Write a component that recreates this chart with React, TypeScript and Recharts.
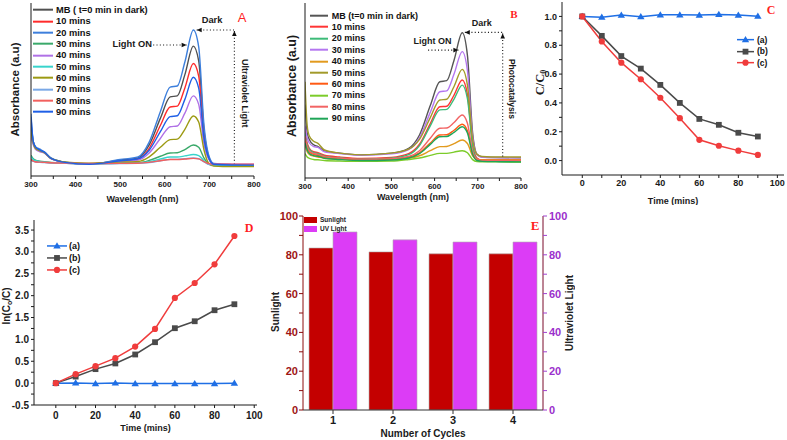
import React from 'react';
import {
  LineChart,
  Line,
  XAxis,
  YAxis,
  Legend,
  ReferenceLine,
  ReferenceDot,
  BarChart,
  Bar,
} from 'recharts';

const SANS = '"Liberation Sans", Arial, sans-serif';
const SERIF = '"Liberation Serif", "Times New Roman", serif';
const INK = '#1a1a1a';

// ---------- spectra (A: UV light, B: photocatalysis) ----------
const wavelengths = [300, 305, 310, 320, 330, 345, 380, 430, 500, 540, 565, 590, 612, 628, 645, 664, 676, 688, 698, 710, 750, 800];
const wlTicks = [300, 350, 400, 450, 500, 550, 600, 650, 700, 750, 800];

// panel A – absorbance (a.u.)
const uvMB = [0.3, 0.2, 0.165, 0.148, 0.135, 0.1, 0.078, 0.07, 0.092, 0.105, 0.18, 0.333, 0.457, 0.463, 0.586, 0.751, 0.665, 0.263, 0.115, 0.07, 0.065, 0.064];
const uv10 = [0.1, 0.088, 0.082, 0.08, 0.079, 0.077, 0.074, 0.07, 0.085, 0.098, 0.16, 0.292, 0.399, 0.404, 0.509, 0.65, 0.577, 0.232, 0.105, 0.068, 0.064, 0.064];
const uv20 = [0.36, 0.2, 0.17, 0.155, 0.14, 0.105, 0.078, 0.068, 0.095, 0.11, 0.196, 0.372, 0.514, 0.52, 0.659, 0.844, 0.747, 0.29, 0.125, 0.072, 0.066, 0.064];
const uv30 = [0.12, 0.1, 0.092, 0.086, 0.082, 0.078, 0.075, 0.071, 0.076, 0.077, 0.09, 0.114, 0.133, 0.134, 0.153, 0.179, 0.166, 0.103, 0.07, 0.06, 0.058, 0.058];
const uv40 = [0.227, 0.18, 0.155, 0.14, 0.132, 0.1, 0.076, 0.068, 0.085, 0.092, 0.133, 0.217, 0.285, 0.289, 0.363, 0.463, 0.414, 0.183, 0.1, 0.07, 0.068, 0.068];
const uv50 = [0.112, 0.095, 0.088, 0.083, 0.08, 0.077, 0.074, 0.07, 0.074, 0.075, 0.083, 0.098, 0.11, 0.11, 0.116, 0.124, 0.118, 0.088, 0.068, 0.062, 0.06, 0.06];
const uv60 = [0.256, 0.19, 0.16, 0.145, 0.135, 0.102, 0.08, 0.074, 0.08, 0.084, 0.111, 0.166, 0.21, 0.213, 0.27, 0.347, 0.312, 0.149, 0.075, 0.058, 0.055, 0.055];
const uv70 = [0.09, 0.085, 0.082, 0.079, 0.078, 0.076, 0.073, 0.07, 0.072, 0.073, 0.078, 0.088, 0.096, 0.096, 0.1, 0.104, 0.1, 0.082, 0.068, 0.066, 0.066, 0.066];
const uv80 = [0.092, 0.086, 0.082, 0.08, 0.079, 0.077, 0.075, 0.072, 0.073, 0.074, 0.079, 0.088, 0.095, 0.095, 0.098, 0.102, 0.099, 0.083, 0.072, 0.068, 0.068, 0.068];
const uv90 = [0.34, 0.2, 0.168, 0.15, 0.138, 0.102, 0.077, 0.068, 0.088, 0.1, 0.149, 0.256, 0.343, 0.348, 0.443, 0.571, 0.508, 0.214, 0.107, 0.068, 0.064, 0.063];

// panel B – absorbance (a.u.)
const pcMB = [0.42, 0.26, 0.22, 0.19, 0.18, 0.155, 0.142, 0.132, 0.142, 0.17, 0.246, 0.414, 0.55, 0.556, 0.673, 0.83, 0.701, 0.258, 0.136, 0.12, 0.117, 0.115];
const pc10 = [0.27, 0.2, 0.17, 0.15, 0.145, 0.13, 0.12, 0.112, 0.118, 0.139, 0.193, 0.311, 0.407, 0.41, 0.474, 0.56, 0.477, 0.192, 0.114, 0.102, 0.1, 0.1];
const pc20 = [0.26, 0.19, 0.165, 0.145, 0.14, 0.125, 0.115, 0.108, 0.113, 0.133, 0.185, 0.298, 0.389, 0.392, 0.451, 0.531, 0.453, 0.182, 0.108, 0.097, 0.095, 0.093];
const pc30 = [0.3, 0.23, 0.2, 0.18, 0.175, 0.15, 0.14, 0.13, 0.138, 0.162, 0.229, 0.375, 0.493, 0.498, 0.594, 0.722, 0.613, 0.236, 0.133, 0.118, 0.116, 0.115];
const pc40 = [0.19, 0.15, 0.135, 0.125, 0.12, 0.113, 0.108, 0.104, 0.106, 0.113, 0.127, 0.156, 0.179, 0.18, 0.196, 0.217, 0.197, 0.127, 0.108, 0.105, 0.105, 0.104];
const pc50 = [0.55, 0.3, 0.24, 0.21, 0.198, 0.16, 0.142, 0.132, 0.142, 0.165, 0.221, 0.345, 0.446, 0.45, 0.523, 0.621, 0.531, 0.22, 0.135, 0.123, 0.12, 0.12];
const pc60 = [0.22, 0.17, 0.15, 0.135, 0.13, 0.118, 0.11, 0.105, 0.108, 0.119, 0.144, 0.2, 0.246, 0.247, 0.273, 0.307, 0.27, 0.141, 0.106, 0.1, 0.1, 0.1];
const pc70 = [0.14, 0.12, 0.112, 0.106, 0.104, 0.1, 0.097, 0.095, 0.097, 0.106, 0.114, 0.129, 0.141, 0.141, 0.148, 0.156, 0.144, 0.105, 0.094, 0.092, 0.092, 0.091];
const pc80 = [0.24, 0.18, 0.155, 0.14, 0.135, 0.122, 0.113, 0.107, 0.11, 0.123, 0.156, 0.227, 0.284, 0.286, 0.317, 0.36, 0.313, 0.152, 0.108, 0.1, 0.1, 0.1];
const pc90 = [0.2, 0.16, 0.14, 0.128, 0.124, 0.113, 0.106, 0.1, 0.103, 0.114, 0.139, 0.192, 0.236, 0.237, 0.261, 0.293, 0.257, 0.135, 0.1, 0.095, 0.093, 0.092];

// ---------- kinetics (C, D) ----------
const times = [0, 10, 20, 30, 40, 50, 60, 70, 80, 90];
const timeTicks = [0, 10, 20, 30, 40, 50, 60, 70, 80, 90, 100];
const ratioA = [1.0, 0.995, 1.009, 0.998, 1.011, 1.011, 1.009, 1.014, 1.009, 1.002];
const ratioB = [1.0, 0.865, 0.725, 0.638, 0.525, 0.4, 0.289, 0.248, 0.193, 0.167];
const ratioC = [1.0, 0.826, 0.679, 0.564, 0.436, 0.294, 0.144, 0.103, 0.069, 0.039];
const ratioTicks = [0, 0.1, 0.2, 0.3, 0.4, 0.5, 0.6, 0.7, 0.8, 0.9, 1.0];

const lnA = [0, 0.005, -0.01, 0.003, -0.01, -0.01, -0.01, -0.01, -0.01, 0.0];
const lnB = [0, 0.15, 0.32, 0.45, 0.655, 0.936, 1.256, 1.415, 1.667, 1.804];
const lnC = [0, 0.205, 0.388, 0.571, 0.837, 1.24, 1.948, 2.29, 2.717, 3.364];
const lnTicks = [-0.5, -0.25, 0, 0.25, 0.5, 0.75, 1, 1.25, 1.5, 1.75, 2, 2.25, 2.5, 2.75, 3, 3.25, 3.5];

// ---------- recycling (E) ----------
const cycles = ['1', '2', '3', '4'];
const sunlight = [83.5, 81.5, 80.5, 80.5];
const uvLight = [91.8, 87.7, 86.6, 86.6];
const pctTicks = [0, 10, 20, 30, 40, 50, 60, 70, 80, 90, 100];

const uvSeries = [
  { key: 'mb', name: 'MB ( t=0 min in dark)', color: '#505050', values: uvMB },
  { key: 'm10', name: '10 mins', color: '#ff2b2b', values: uv10 },
  { key: 'm20', name: '20 mins', color: '#3d7fdc', values: uv20 },
  { key: 'm30', name: '30 mins', color: '#3aa96a', values: uv30 },
  { key: 'm40', name: '40 mins', color: '#b071e6', values: uv40 },
  { key: 'm50', name: '50 mins', color: '#38d4cc', values: uv50 },
  { key: 'm60', name: '60 mins', color: '#9c9a12', values: uv60 },
  { key: 'm70', name: '70 mins', color: '#7aa8e6', values: uv70 },
  { key: 'm80', name: '80 mins', color: '#f2605e', values: uv80 },
  { key: 'm90', name: '90 mins', color: '#1f5fe6', values: uv90 },
];

const pcSeries = [
  { key: 'mb', name: 'MB (t=0 min in dark)', color: '#555555', values: pcMB },
  { key: 'm10', name: '10 mins', color: '#ff3535', values: pc10 },
  { key: 'm20', name: '20 mins', color: '#3dbb78', values: pc20 },
  { key: 'm30', name: '30 mins', color: '#b476f0', values: pc30 },
  { key: 'm40', name: '40 mins', color: '#e29a1e', values: pc40 },
  { key: 'm50', name: '50 mins', color: '#a29a2a', values: pc50 },
  { key: 'm60', name: '60 mins', color: '#ff5a14', values: pc60 },
  { key: 'm70', name: '70 mins', color: '#7ccc2a', values: pc70 },
  { key: 'm80', name: '80 mins', color: '#f26464', values: pc80 },
  { key: 'm90', name: '90 mins', color: '#1fa557', values: pc90 },
];
const spectraOrder = uvSeries.map((s) => s.key);

const toRows = (series: { key: string; values: number[] }[]) =>
  wavelengths.map((w, i) => {
    const row: Record<string, number> = { w };
    series.forEach((s) => (row[s.key] = s.values[i]));
    return row;
  });

const uvRows = toRows(uvSeries);
const pcRows = toRows(pcSeries);
const ratioRows = times.map((t, i) => ({ t, a: ratioA[i], b: ratioB[i], c: ratioC[i] }));
const lnRows = times.map((t, i) => ({ t, a: lnA[i], b: lnB[i], c: lnC[i] }));
const cycleRows = cycles.map((c, i) => ({ cycle: c, sun: sunlight[i], uv: uvLight[i] }));

const kinSeries = [
  { key: 'a', name: '(a)', color: '#1f6fe5', marker: 'tri' },
  { key: 'b', name: '(b)', color: '#4a4a4a', marker: 'sq' },
  { key: 'c', name: '(c)', color: '#f03c3c', marker: 'circ' },
];
const kinOrder = kinSeries.map((s) => s.key);
const markerOf: Record<string, string> = { a: 'tri', b: 'sq', c: 'circ' };

// ---------- helpers ----------
const markerEl = (shape: string, cx: number, cy: number, color: string, key?: string) => {
  if (shape === 'tri')
    return <path key={key} d={`M${cx},${cy - 3.6}L${cx + 3.7},${cy + 2.6}L${cx - 3.7},${cy + 2.6}Z`} fill={color} />;
  if (shape === 'sq') return <rect key={key} x={cx - 2.9} y={cy - 2.9} width={5.8} height={5.8} fill={color} />;
  return <circle key={key} cx={cx} cy={cy} r={3.1} fill={color} />;
};

const dotFor = (shape: string, color: string) => (p: any) =>
  markerEl(shape, p.cx, p.cy, color, `${p.dataKey}-${p.index}`);

const yTitle = (node: React.ReactNode, dx: number, dyc: number, style: React.CSSProperties, angle = -90) => (props: any) => {
  const vb = props.viewBox;
  const x = vb.x + dx;
  const y = vb.y + vb.height / 2 + dyc;
  return (
    <text x={x} y={y} transform={`rotate(${angle} ${x} ${y})`} textAnchor="middle" dominantBaseline="central" style={style}>
      {node}
    </text>
  );
};

const xTitle = (node: React.ReactNode, dy: number, style: React.CSSProperties) => (props: any) => {
  const vb = props.viewBox;
  return (
    <text x={vb.x + vb.width / 2} y={vb.y + dy} textAnchor="middle" dominantBaseline="central" style={style}>
      {node}
    </text>
  );
};

const dottedArrow = (head: 'start' | 'end') => (p: any) => {
  const { x1, y1, x2, y2 } = p;
  const hx = head === 'end' ? x2 : x1;
  const hy = head === 'end' ? y2 : y1;
  const tx = head === 'end' ? x1 : x2;
  const ty = head === 'end' ? y1 : y2;
  const ang = Math.atan2(hy - ty, hx - tx);
  const bx = hx - 5 * Math.cos(ang);
  const by = hy - 5 * Math.sin(ang);
  const px = -Math.sin(ang) * 2.3;
  const py = Math.cos(ang) * 2.3;
  return (
    <g>
      <line x1={x1} y1={y1} x2={x2} y2={y2} stroke="#111" strokeWidth={1.1} strokeDasharray="1 2.3" />
      <polygon points={`${hx},${hy} ${bx + px},${by + py} ${bx - px},${by - py}`} fill="#111" />
    </g>
  );
};

const note = (txt: string, size: number, rotate = 0) => (p: any) => (
  <text
    x={p.cx}
    y={p.cy}
    transform={rotate ? `rotate(${rotate} ${p.cx} ${p.cy})` : undefined}
    textAnchor="middle"
    dominantBaseline="central"
    fontFamily={SANS}
    fontWeight={700}
    fontSize={size}
    fill={INK}
  >
    {txt}
  </text>
);

const lineLegend = (o: { rowH: number; lineW: number; font: number; gap: number; lw: number; order: string[]; markers?: boolean }) => (props: any) => {
  const items = [...(props.payload || [])].sort(
    (a: any, b: any) => o.order.indexOf(String(a.dataKey)) - o.order.indexOf(String(b.dataKey))
  );
  return (
    <div style={{ fontFamily: SANS, fontWeight: 700, fontSize: o.font, color: '#111' }}>
      {items.map((p: any) => (
        <div key={String(p.dataKey)} style={{ height: o.rowH, display: 'flex', alignItems: 'center', whiteSpace: 'nowrap' }}>
          <svg width={o.lineW} height={o.rowH} style={{ marginRight: o.gap, flex: 'none' }}>
            <line x1={0} x2={o.lineW} y1={o.rowH / 2} y2={o.rowH / 2} stroke={p.color} strokeWidth={o.lw} />
            {o.markers ? markerEl(markerOf[String(p.dataKey)], o.lineW / 2, o.rowH / 2, p.color) : null}
          </svg>
          <span>{p.value}</span>
        </div>
      ))}
    </div>
  );
};

const barOrder = ['sun', 'uv'];
const boxLegend = (props: any) => {
  const items = [...(props.payload || [])].sort(
    (a: any, b: any) => barOrder.indexOf(String(a.dataKey)) - barOrder.indexOf(String(b.dataKey))
  );
  return (
    <div style={{ fontFamily: SANS, fontWeight: 700, fontSize: 6.5, color: '#222' }}>
      {items.map((p: any) => (
        <div key={String(p.dataKey)} style={{ height: 9, display: 'flex', alignItems: 'center', whiteSpace: 'nowrap' }}>
          <span style={{ display: 'inline-block', width: 13, height: 6, background: p.color, marginRight: 3 }} />
          {p.value}
        </div>
      ))}
    </div>
  );
};

const tickStyle = (size: number, fill = INK) => ({ fontSize: size, fontWeight: 700, fill, fontFamily: SANS });
const titleStyle = (size: number, fill = INK): React.CSSProperties => ({ fontSize: size, fontWeight: 700, fill, fontFamily: SANS });
const letter = (ch: string, x: number, y: number, size: number, family: string, weight: number) => (
  <span
    style={{
      position: 'absolute',
      left: x,
      top: y,
      transform: 'translate(-50%, -50%)',
      fontFamily: family,
      fontWeight: weight,
      fontSize: size,
      lineHeight: 1,
      color: '#ff1f1f',
    }}
  >
    {ch}
  </span>
);

const wlFmt = (v: number) => (v % 100 === 0 ? String(v) : '');

function SpectraPanel(props: {
  rows: Record<string, number>[];
  series: { key: string; name: string; color: string }[];
  left: number;
  yWidth: number;
  right: number;
  bottomH: number;
  yLabel: React.ReactNode;
  xDy: number;
  legend: { left: number; top: number; rowH: number; lineW: number; gap: number; font: number };
  notes: React.ReactNode[];
}) {
  const { rows, series, yWidth, right, bottomH, legend } = props;
  return (
    <div style={{ position: 'absolute', left: props.left, top: 0 }}>
      <LineChart width={265} height={205} data={rows} margin={{ top: 3, right, bottom: 0, left: 0 }}>
        <XAxis
          dataKey="w"
          type="number"
          domain={[300, 800]}
          allowDataOverflow
          ticks={wlTicks}
          interval={0}
          tickFormatter={wlFmt}
          height={bottomH}
          tickSize={3}
          tickMargin={2}
          tick={tickStyle(8)}
          stroke={INK}
          label={xTitle('Wavelength (nm)', props.xDy, titleStyle(9))}
        />
        <XAxis xAxisId="top" orientation="top" dataKey="w" type="number" domain={[300, 800]} allowDataOverflow height={0} tick={false} tickLine={false} stroke={INK} />
        <YAxis type="number" domain={[0, 1]} allowDataOverflow width={yWidth} tick={false} tickLine={false} stroke={INK} label={props.yLabel} />
        <YAxis yAxisId="r" orientation="right" type="number" domain={[0, 1]} allowDataOverflow width={0} tick={false} tickLine={false} stroke={INK} />
        <Legend
          layout="vertical"
          align="center"
          verticalAlign="middle"
          wrapperStyle={{ left: legend.left, top: legend.top, width: 'auto' }}
          content={lineLegend({ rowH: legend.rowH, lineW: legend.lineW, gap: legend.gap, font: legend.font, lw: 2, order: spectraOrder })}
        />
        {series.map((s) => (
          <Line
            key={s.key}
            dataKey={s.key}
            name={s.name}
            stroke={s.color}
            strokeWidth={1.4}
            type="monotone"
            dot={false}
            activeDot={false}
            isAnimationActive={false}
          />
        ))}
        {props.notes}
      </LineChart>
    </div>
  );
}

const uvNotes = [
  <ReferenceLine key="on" segment={[{ x: 574, y: 0.757 }, { x: 649, y: 0.757 }]} ifOverflow="visible" shape={dottedArrow('end')} />,
  <ReferenceLine key="dk" segment={[{ x: 671.5, y: 0.844 }, { x: 756, y: 0.844 }]} ifOverflow="visible" shape={dottedArrow('start')} />,
  <ReferenceLine key="vt" segment={[{ x: 756, y: 0.838 }, { x: 756, y: 0.073 }]} ifOverflow="visible" shape={dottedArrow('start')} />,
  <ReferenceDot key="t1" x={527} y={0.761} ifOverflow="visible" shape={note('Light ON', 9.3)} />,
  <ReferenceDot key="t2" x={706} y={0.902} ifOverflow="visible" shape={note('Dark', 9.3)} />,
  <ReferenceDot key="t3" x={780} y={0.478} ifOverflow="visible" shape={note('Ultraviolet Light', 9, 90)} />,
];

const pcNotes = [
  <ReferenceLine key="on" segment={[{ x: 585, y: 0.731 }, { x: 655, y: 0.731 }]} ifOverflow="visible" shape={dottedArrow('end')} />,
  <ReferenceLine key="dk" segment={[{ x: 670, y: 0.832 }, { x: 757.6, y: 0.832 }]} ifOverflow="visible" shape={dottedArrow('start')} />,
  <ReferenceLine key="vt" segment={[{ x: 757.6, y: 0.826 }, { x: 757.6, y: 0.122 }]} ifOverflow="visible" shape={dottedArrow('start')} />,
  <ReferenceDot key="t1" x={595} y={0.785} ifOverflow="visible" shape={note('Light ON', 9)} />,
  <ReferenceDot key="t2" x={709} y={0.884} ifOverflow="visible" shape={note('Dark', 9)} />,
  <ReferenceDot key="t3" x={778.5} y={0.509} ifOverflow="visible" shape={note('Photocatalysis', 8.5, 90)} />,
];

export default function App() {
  const ratioFmt = (v: number) => (Math.round(v * 10) % 2 === 0 ? v.toFixed(1) : '');
  const timeFmt = (v: number) => (v % 20 === 0 ? String(v) : '');
  const lnFmt = (v: number) => (Math.round(v * 4) % 2 === 0 ? v.toFixed(1) : '');
  const pctFmt = (v: number) => (v % 20 === 0 ? String(v) : '');

  return (
    <div style={{ position: 'absolute', left: 0, top: 0, width: 787, height: 440, background: '#fff', overflow: 'hidden' }}>
      {/* A */}
      <SpectraPanel
        rows={uvRows}
        series={uvSeries}
        left={0}
        yWidth={31}
        right={11}
        bottomH={29}
        xDy={23}
        yLabel={yTitle('Absorbance (a.u)', 15, 0, titleStyle(11.5))}
        legend={{ left: 33, top: 4.3, rowH: 11.35, lineW: 20, gap: 3, font: 9.3 }}
        notes={uvNotes}
      />
      {/* B */}
      <SpectraPanel
        rows={pcRows}
        series={pcSeries}
        left={265}
        yWidth={40}
        right={9}
        bottomH={27}
        xDy={19}
        yLabel={yTitle('Absorbance (a.u)', 26.7, -4.5, titleStyle(12.5))}
        legend={{ left: 45, top: 10, rowH: 11.4, lineW: 18, gap: 3.7, font: 9 }}
        notes={pcNotes}
      />

      {/* C */}
      <div style={{ position: 'absolute', left: 530, top: 0 }}>
        <LineChart width={257} height={205} data={ratioRows} margin={{ top: 2, right: 3, bottom: 0, left: 0 }}>
          <XAxis
            dataKey="t"
            type="number"
            domain={[-10.4, 103.4]}
            allowDataOverflow
            ticks={timeTicks}
            interval={0}
            tickFormatter={timeFmt}
            height={30}
            tickSize={3}
            tickMargin={2}
            tick={tickStyle(9)}
            stroke={INK}
            label={xTitle('Time (mins)', 26, titleStyle(9))}
          />
          <XAxis xAxisId="top" orientation="top" dataKey="t" type="number" domain={[-10.4, 103.4]} allowDataOverflow height={0} tick={false} tickLine={false} stroke={INK} />
          <YAxis
            type="number"
            domain={[-0.1, 1.1]}
            allowDataOverflow
            ticks={ratioTicks}
            interval={0}
            tickFormatter={ratioFmt}
            width={32}
            tickSize={3}
            tickMargin={2}
            tick={tickStyle(9)}
            stroke={INK}
            label={yTitle(
              <>
                C/C<tspan fontSize={8} dy={3}>0</tspan>
              </>,
              9.5,
              -6,
              { fontSize: 12.5, fontWeight: 700, fill: INK, fontFamily: SERIF }
            )}
          />
          <YAxis yAxisId="r" orientation="right" type="number" domain={[0, 1]} allowDataOverflow width={0} tick={false} tickLine={false} stroke={INK} />
          <Legend
            layout="vertical"
            align="center"
            verticalAlign="middle"
            wrapperStyle={{ left: 207, top: 34.3, width: 'auto' }}
            content={lineLegend({ rowH: 11.3, lineW: 17, gap: 3, font: 8.5, lw: 1.5, order: kinOrder, markers: true })}
          />
          {kinSeries.map((s) => (
            <Line
              key={s.key}
              dataKey={s.key}
              name={s.name}
              stroke={s.color}
              strokeWidth={1.5}
              type="linear"
              dot={dotFor(s.marker, s.color)}
              activeDot={false}
              isAnimationActive={false}
            />
          ))}
        </LineChart>
      </div>

      {/* D */}
      <div style={{ position: 'absolute', left: 0, top: 205 }}>
        <LineChart width={265} height={235} data={lnRows} margin={{ top: 15, right: 8, bottom: 0, left: 0 }}>
          <XAxis
            dataKey="t"
            type="number"
            domain={[-11, 101.4]}
            allowDataOverflow
            ticks={timeTicks}
            interval={0}
            tickFormatter={timeFmt}
            height={35}
            tickSize={3}
            tickMargin={4}
            tick={tickStyle(10)}
            stroke={INK}
            label={xTitle('Time (mins)', 23, titleStyle(9))}
          />
          <XAxis xAxisId="top" orientation="top" dataKey="t" type="number" domain={[-11, 101.4]} allowDataOverflow height={0} tick={false} tickLine={false} stroke={INK} />
          <YAxis
            type="number"
            domain={[-0.5, 3.73]}
            allowDataOverflow
            ticks={lnTicks}
            interval={0}
            tickFormatter={lnFmt}
            width={34}
            tickSize={3}
            tickMargin={2}
            tick={tickStyle(10)}
            stroke={INK}
            label={yTitle(
              <>
                ln(C<tspan fontSize={7} dy={2.5}>o</tspan>
                <tspan dy={-2.5}>/C)</tspan>
              </>,
              6,
              -6.5,
              titleStyle(10)
            )}
          />
          <YAxis yAxisId="r" orientation="right" type="number" domain={[0, 1]} allowDataOverflow width={0} tick={false} tickLine={false} stroke={INK} />
          <Legend
            layout="vertical"
            align="center"
            verticalAlign="middle"
            wrapperStyle={{ left: 47, top: 35.1, width: 'auto' }}
            content={lineLegend({ rowH: 11.9, lineW: 20, gap: 2, font: 9, lw: 1.5, order: kinOrder, markers: true })}
          />
          {kinSeries.map((s) => (
            <Line
              key={s.key}
              dataKey={s.key}
              name={s.name}
              stroke={s.color}
              strokeWidth={1.5}
              type="linear"
              dot={dotFor(s.marker, s.color)}
              activeDot={false}
              isAnimationActive={false}
            />
          ))}
        </LineChart>
      </div>

      {/* E */}
      <div style={{ position: 'absolute', left: 265, top: 205 }}>
        <BarChart width={310} height={235} data={cycleRows} margin={{ top: 11, right: 0, bottom: 0, left: 0 }} barCategoryGap="10%" barGap={0}>
          <XAxis
            dataKey="cycle"
            height={30}
            tickSize={4}
            tickMargin={2}
            tick={tickStyle(11)}
            stroke="#333"
            label={xTitle('Number of Cycles', 23, titleStyle(10))}
          />
          <XAxis xAxisId="top" orientation="top" type="number" domain={[0, 1]} allowDataOverflow height={0} tick={false} tickLine={false} stroke="#7a0a0a" />
          <YAxis
            type="number"
            domain={[0, 100]}
            allowDataOverflow
            ticks={pctTicks}
            interval={0}
            tickFormatter={pctFmt}
            width={38}
            tickSize={4}
            tickMargin={1}
            tick={tickStyle(11, '#9e1414')}
            axisLine={{ stroke: '#8a0c0c' }}
            tickLine={{ stroke: '#8a0c0c' }}
            label={yTitle('Sunlight', 10, -1, titleStyle(10, '#222'))}
          />
          <YAxis
            yAxisId="r"
            orientation="right"
            type="number"
            domain={[0, 100]}
            allowDataOverflow
            ticks={pctTicks}
            interval={0}
            tickFormatter={pctFmt}
            width={32}
            tickSize={4}
            tickMargin={2}
            tick={tickStyle(11, '#9b30cc')}
            axisLine={{ stroke: '#7a0a2a' }}
            tickLine={{ stroke: '#a040d0' }}
            label={yTitle('Ultraviolet Light', 26.3, 0, titleStyle(10, '#222'))}
          />
          <Legend layout="vertical" align="center" verticalAlign="middle" wrapperStyle={{ left: 39, top: 10, width: 'auto' }} content={boxLegend} />
          <Bar dataKey="sun" name="Sunlight" fill="#c40000" stroke="#b0b0b0" strokeWidth={0.6} isAnimationActive={false} />
          <Bar dataKey="uv" name="UV Light" fill="#dc3cf6" stroke="#b0b0b0" strokeWidth={0.6} isAnimationActive={false} />
        </BarChart>
      </div>

      {letter('A', 242, 17, 13, SANS, 400)}
      {letter('B', 514, 14, 11, SERIF, 700)}
      {letter('C', 771, 10, 12, SERIF, 700)}
      {letter('D', 249, 228, 12, SERIF, 700)}
      {letter('E', 535, 225, 13, SERIF, 700)}
    </div>
  );
}
